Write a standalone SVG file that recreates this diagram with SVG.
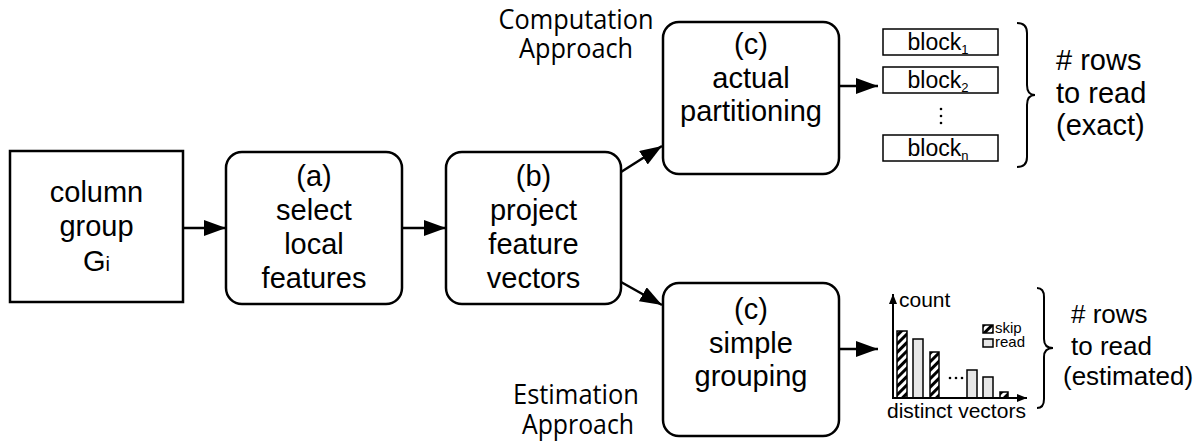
<svg xmlns="http://www.w3.org/2000/svg" width="1200" height="447" viewBox="0 0 1200 447">
  <style>
    .box { fill: #ffffff; stroke: #000000; stroke-width: 2.5; }
    .lbl { font-family: "Liberation Sans", Arial, Helvetica, sans-serif; font-size: 29px; fill: #000000; text-anchor: middle; }
    .side { font-family: "Liberation Sans", Arial, Helvetica, sans-serif; fill: #000000; }
    .appr { font-family: "Open Sans", "Noto Sans", sans-serif; font-size: 27px; fill: #000000; text-anchor: middle; }
    .edge { stroke: #000000; stroke-width: 2.5; fill: none; }
    .brace { stroke: #000000; stroke-width: 2; fill: none; }
    .blk { fill: #ffffff; stroke: #000000; stroke-width: 1.5; }
    .small { font-family: "Liberation Sans", Arial, Helvetica, sans-serif; fill: #000000; }
    .axis { stroke: #000000; stroke-width: 2; fill: none; }
    .hatch { fill: url(#hatch); stroke: #000000; stroke-width: 1.5; }
    .read { fill: #e6e6e6; stroke: #000000; stroke-width: 1.5; }
  </style>
  <defs>
    <marker id="arrow" viewBox="0 0 22 16" refX="22" refY="8" markerWidth="22" markerHeight="16" markerUnits="userSpaceOnUse" orient="auto">
      <path d="M0,0 L22,8 L0,16 Z" fill="#000000"/>
    </marker>
    <marker id="axisArrow" viewBox="0 0 10 8" refX="10" refY="4" markerWidth="10" markerHeight="8" markerUnits="userSpaceOnUse" orient="auto">
      <path d="M0,0 L10,4 L0,8 Z" fill="#000000"/>
    </marker>
    <pattern id="hatch" patternUnits="userSpaceOnUse" width="6" height="6" patternTransform="rotate(45)">
      <rect x="0" y="0" width="6" height="6" fill="#ffffff"/>
      <rect x="0" y="0" width="3" height="6" fill="#000000"/>
    </pattern>
  </defs>

  <!-- column group -->
  <g id="node-group">
    <rect class="box" x="10" y="151" width="173" height="151"/>
    <text class="lbl" x="96.5" y="202">column</text>
    <text class="lbl" x="96.5" y="236">group</text>
    <text class="lbl" x="96.5" y="271">G<tspan font-size="20px">i</tspan></text>
  </g>

  <!-- (a) select local features -->
  <g id="node-select">
    <rect class="box" x="226" y="152" width="176" height="152" rx="16" ry="16"/>
    <text class="lbl" x="314" y="186">(a)</text>
    <text class="lbl" x="314" y="220">select</text>
    <text class="lbl" x="314" y="254">local</text>
    <text class="lbl" x="314" y="288">features</text>
  </g>

  <!-- (b) project feature vectors -->
  <g id="node-project">
    <rect class="box" x="446" y="152" width="175" height="152" rx="16" ry="16"/>
    <text class="lbl" x="533.5" y="186">(b)</text>
    <text class="lbl" x="533.5" y="220">project</text>
    <text class="lbl" x="533.5" y="254">feature</text>
    <text class="lbl" x="533.5" y="288">vectors</text>
  </g>

  <!-- (c) actual partitioning -->
  <g id="node-partition">
    <rect class="box" x="663" y="22" width="176" height="152" rx="16" ry="16"/>
    <text class="lbl" x="751" y="54">(c)</text>
    <text class="lbl" x="751" y="88">actual</text>
    <text class="lbl" x="751" y="121">partitioning</text>
  </g>

  <!-- (c) simple grouping -->
  <g id="node-grouping">
    <rect class="box" x="663" y="283" width="176" height="153" rx="16" ry="16"/>
    <text class="lbl" x="751" y="319">(c)</text>
    <text class="lbl" x="751" y="353">simple</text>
    <text class="lbl" x="751" y="386">grouping</text>
  </g>

  <!-- approach captions -->
  <g id="caption-computation">
    <text class="appr" x="576" y="29" textLength="155" lengthAdjust="spacingAndGlyphs">Computation</text>
    <text class="appr" x="576" y="58" textLength="114" lengthAdjust="spacingAndGlyphs">Approach</text>
  </g>
  <g id="caption-estimation">
    <text class="appr" x="576" y="404" textLength="126" lengthAdjust="spacingAndGlyphs">Estimation</text>
    <text class="appr" x="578" y="434" textLength="112" lengthAdjust="spacingAndGlyphs">Approach</text>
  </g>

  <!-- partition blocks -->
  <g id="node-blocks">
    <rect class="blk" x="883" y="29" width="115" height="26"/>
    <text class="small" x="938" y="50" font-size="23px" text-anchor="middle">block<tspan font-size="13px" dy="4">1</tspan></text>
    <rect class="blk" x="883" y="67" width="115" height="26"/>
    <text class="small" x="938" y="88" font-size="23px" text-anchor="middle">block<tspan font-size="13px" dy="4">2</tspan></text>
    <circle cx="941" cy="109" r="1.3" fill="#000"/>
    <circle cx="941" cy="116" r="1.3" fill="#000"/>
    <circle cx="941" cy="123" r="1.3" fill="#000"/>
    <rect class="blk" x="883" y="135" width="115" height="26"/>
    <text class="small" x="938" y="156" font-size="23px" text-anchor="middle">block<tspan font-size="13px" dy="4">n</tspan></text>
  </g>

  <!-- histogram of distinct vectors -->
  <g id="node-histogram">
    <rect class="hatch" x="897" y="331" width="10" height="67"/>
    <rect class="read" x="913" y="339" width="10" height="59"/>
    <rect class="hatch" x="930" y="352" width="9" height="46"/>
    <circle cx="950" cy="378" r="1.3" fill="#000"/>
    <circle cx="956" cy="378" r="1.3" fill="#000"/>
    <circle cx="962" cy="378" r="1.3" fill="#000"/>
    <rect class="read" x="967" y="370" width="10" height="28"/>
    <rect class="read" x="983" y="377" width="10" height="21"/>
    <rect class="hatch" x="1000" y="392" width="8" height="6"/>
    <line class="axis" x1="893" y1="398" x2="893" y2="294" marker-end="url(#axisArrow)"/>
    <line class="axis" x1="892" y1="398" x2="1027" y2="398" marker-end="url(#axisArrow)"/>
    <text class="small" x="899" y="307" font-size="21px">count</text>
    <text class="small" x="887" y="418" font-size="21px">distinct vectors</text>
    <rect class="hatch" x="983" y="325" width="10" height="8"/>
    <text class="small" x="995" y="333" font-size="15px">skip</text>
    <rect class="read" x="983" y="339" width="10" height="8"/>
    <text class="small" x="995" y="347" font-size="15px">read</text>
  </g>

  <!-- braces and outcomes -->
  <g id="node-exact">
    <path class="brace" d="M1017,23 Q1027,23 1027,33 L1027,85 Q1027,95 1035,95 Q1027,95 1027,105 L1027,157 Q1027,167 1017,167"/>
    <text class="side" font-size="29px">
      <tspan x="1056" y="70"># rows</tspan>
      <tspan x="1056" y="103">to read</tspan>
      <tspan x="1056" y="135">(exact)</tspan>
    </text>
  </g>
  <g id="node-estimated">
    <path class="brace" d="M1037,288 Q1044,288 1044,297 L1044,339 Q1044,348 1053,348 Q1044,348 1044,357 L1044,399 Q1044,408 1037,408"/>
    <text class="side" font-size="26px">
      <tspan x="1071" y="323"># rows</tspan>
      <tspan x="1071" y="355">to read</tspan>
      <tspan x="1063" y="385">(estimated)</tspan>
    </text>
  </g>

  <!-- connectors -->
  <g id="connectors">
    <line class="edge" x1="183" y1="228" x2="226" y2="228" marker-end="url(#arrow)"/>
    <line class="edge" x1="402" y1="228" x2="446" y2="228" marker-end="url(#arrow)"/>
    <line class="edge" x1="621" y1="172" x2="662" y2="146" marker-end="url(#arrow)"/>
    <line class="edge" x1="621" y1="282" x2="662" y2="305" marker-end="url(#arrow)"/>
    <line class="edge" x1="839" y1="86" x2="878" y2="86" marker-end="url(#arrow)"/>
    <line class="edge" x1="839" y1="349" x2="878" y2="349" marker-end="url(#arrow)"/>
  </g>
</svg>
